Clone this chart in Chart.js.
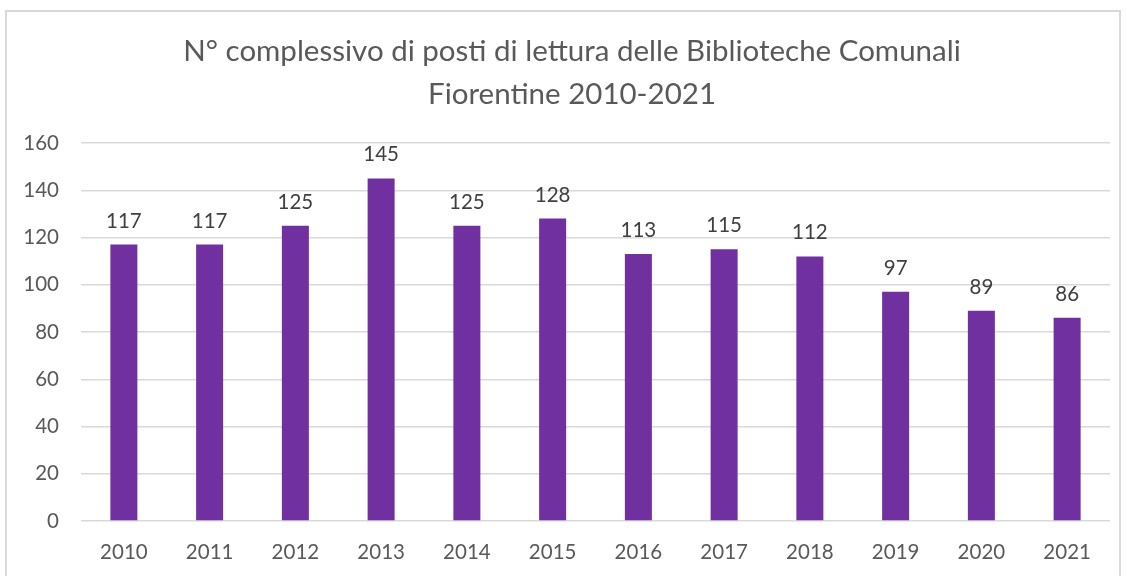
<!DOCTYPE html>
<html><head><meta charset="utf-8">
<script src="https://cdn.jsdelivr.net/npm/chart.js@4/dist/chart.umd.min.js"></script>
<style>html,body{margin:0;padding:0;background:#fff}#wrap{width:1127px;height:576px;position:relative}</style>
</head><body><div id="wrap"><canvas id="c" width="1127" height="576"></canvas></div>
<script>
const categories = ["2010","2011","2012","2013","2014","2015","2016","2017","2018","2019","2020","2021"];
const values = [117,117,125,145,125,128,113,115,112,97,89,86];
const titleLines = ["N° complessivo di posti di lettura delle Biblioteche Comunali","Fiorentine 2010-2021"];
const yTicks = [0,20,40,60,80,100,120,140,160];

const FONT = "Lato, 'Open Sans', sans-serif";

const decor = {
  id: 'decor',
  beforeDraw(chart){
    const ctx = chart.ctx;
    ctx.save();
    ctx.fillStyle = '#fff';
    ctx.fillRect(0,0,chart.width,chart.height);
    ctx.strokeStyle = '#d9d9d9';
    ctx.lineWidth = 2;
    ctx.strokeRect(6, 11, 1114, 620);
    ctx.fillStyle = '#595959';
    ctx.font = '29.5px ' + FONT;
    ctx.textAlign = 'center';
    ctx.textBaseline = 'alphabetic';
    ctx.fillText(titleLines[0], 572, 61);
    ctx.fillText(titleLines[1], 572, 104);
    ctx.restore();
  },
  afterDatasetsDraw(chart){
    const ctx = chart.ctx;
    const meta = chart.getDatasetMeta(0);
    ctx.save();
    ctx.fillStyle = '#404040';
    ctx.font = '20.5px ' + FONT;
    ctx.textAlign = 'center';
    ctx.textBaseline = 'alphabetic';
    meta.data.forEach((bar,i)=>{
      ctx.fillText(String(values[i]), bar.x, bar.y - 17);
    });
    ctx.restore();
  }
};

new Chart(document.getElementById('c'), {
  type: 'bar',
  data: { labels: categories, datasets: [{ data: values, backgroundColor: '#7030A0', barPercentage: 0.315, categoryPercentage: 1 }] },
  options: {
    responsive: false,
    animation: false,
    devicePixelRatio: 1,
    layout: { padding: { top: 143, right: 17, left: 0, bottom: 0 } },
    plugins: { legend: { display: false }, title: { display: false }, tooltip: { enabled: false } },
    scales: {
      x: {
        grid: { display: false, drawTicks: false },
        border: { display: false },
        ticks: { color: '#595959', font: { size: 20.5, family: FONT }, padding: 19 },
        afterFit(s){ s.height = 55; }
      },
      y: {
        min: 0, max: 160,
        afterBuildTicks(s){ s.ticks = yTicks.map(v=>({value:v})); },
        grid: { color: '#d9d9d9', lineWidth: 1.5, drawTicks: false },
        border: { display: false },
        ticks: { color: '#595959', font: { size: 20.5, family: FONT }, padding: 22 },
        afterFit(s){ s.width = 81; }
      }
    }
  },
  plugins: [decor]
});
</script></body></html>
